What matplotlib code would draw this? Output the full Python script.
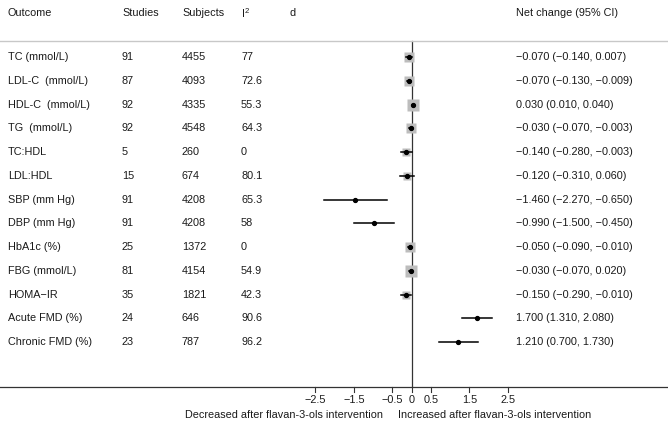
import numpy as np
import matplotlib
matplotlib.use("Agg")
import matplotlib.pyplot as plt
from matplotlib.transforms import blended_transform_factory

plt.rcParams['font.family'] = ['Liberation Sans', 'DejaVu Sans']
plt.rcParams['mathtext.fontset'] = 'custom'
plt.rcParams['mathtext.rm'] = 'Liberation Sans'
plt.rcParams['mathtext.it'] = 'Liberation Sans'

# data
outcomes = ['TC (mmol/L)', 'LDL-C  (mmol/L)', 'HDL-C  (mmol/L)', 'TG  (mmol/L)',
            'TC:HDL', 'LDL:HDL', 'SBP (mm Hg)', 'DBP (mm Hg)', 'HbA1c (%)',
            'FBG (mmol/L)', 'HOMA\u2212IR', 'Acute FMD (%)', 'Chronic FMD (%)']
studies = [91, 87, 92, 92, 5, 15, 91, 91, 25, 81, 35, 24, 23]
subjects = [4455, 4093, 4335, 4548, 260, 674, 4208, 4208, 1372, 4154, 1821, 646, 787]
i2 = ['77', '72.6', '55.3', '64.3', '0', '80.1', '65.3', '58', '0', '54.9', '42.3', '90.6', '96.2']
est = [-0.070, -0.070, 0.030, -0.030, -0.140, -0.120, -1.460, -0.990, -0.050, -0.030, -0.150, 1.700, 1.210]
lo = [-0.140, -0.130, 0.010, -0.070, -0.280, -0.310, -2.270, -1.500, -0.090, -0.070, -0.290, 1.310, 0.700]
hi = [0.007, -0.009, 0.040, -0.003, -0.003, 0.060, -0.650, -0.450, -0.010, 0.020, -0.010, 2.080, 1.730]
weight = [7.5, 7.5, 8, 7, 5.5, 5.5, 0, 0, 7.5, 8, 5.5, 0, 0]
ticks = [-2.5, -1.5, -0.5, 0, 0.5, 1.5, 2.5]

W, H = 668, 423
x0, xs = 411.7, 38.5          # zero position and pixels per unit
y0, ys = 57, 23.75            # first row and row spacing (pixels)

def row(py):
    return (py - y0) / ys

fig = plt.figure(figsize=(W / 100, H / 100), dpi=100)
ax = fig.add_axes([0, 0, 1, 1])
ax.set_xlim(-x0 / xs, (W - x0) / xs)
ax.set_ylim(row(H), row(0))
ax.axis('off')
tr = blended_transform_factory(ax.transAxes, ax.transData)
fs = 7.8
tc = '#1a1a1a'

# header
hy = row(13)
for px, lab in [(8, 'Outcome'), (122, 'Studies'), (182, 'Subjects'),
                (241, 'I$^{2}$'), (290, 'd'), (516, 'Net change (95% CI)')]:
    ax.text(px / W, hy, lab, transform=tr, fontsize=fs, va='center', ha='left', color=tc)

ax.plot([0, 1], [row(40.5)] * 2, transform=tr, color='#c8c8c8', lw=1)

n = len(outcomes)
ys_rows = np.arange(n)
ax.plot([0, 0], [row(40.5), row(387)], color='#333333', lw=0.9, zorder=1)

for i in range(n):
    y = ys_rows[i]
    ax.text(8 / W, y, outcomes[i], transform=tr, fontsize=fs, va='center', color=tc)
    ax.text(122 / W, y, str(studies[i]), transform=tr, fontsize=fs, va='center', color=tc)
    ax.text(182 / W, y, str(subjects[i]), transform=tr, fontsize=fs, va='center', color=tc)
    ax.text(241 / W, y, i2[i], transform=tr, fontsize=fs, va='center', color=tc)
    lab = '%.3f (%.3f, %.3f)' % (est[i], lo[i], hi[i])
    lab = lab.replace('-', '\u2212')
    ax.text(516 / W, y, lab, transform=tr, fontsize=fs, va='center', color=tc)
    if weight[i] > 0:
        ax.plot(est[i], y, marker='s', ms=weight[i], color='#bdbdbd', mec='none', zorder=2)
    ax.plot([lo[i], hi[i]], [y, y], color='black', lw=1.1, zorder=3)
    ax.plot(est[i], y, marker='o', ms=2.8, color='black', zorder=4)

# bottom axis
ay = row(387)
ax.plot([0, 1], [ay, ay], transform=tr, color='#333333', lw=0.9)
for t in ticks:
    ax.plot([t, t], [ay, row(391.5)], color='#333333', lw=0.8)
    ax.text(t, row(400), ('%g' % t).replace('-', '\u2212'), fontsize=fs,
            ha='center', va='center', color=tc)
ax.text(-0.75, row(415), 'Decreased after flavan-3-ols intervention', fontsize=fs,
        ha='right', va='center', color=tc)
ax.text(-0.35, row(415), 'Increased after flavan-3-ols intervention', fontsize=fs,
        ha='left', va='center', color=tc)

fig.savefig('out.png', dpi=100)
